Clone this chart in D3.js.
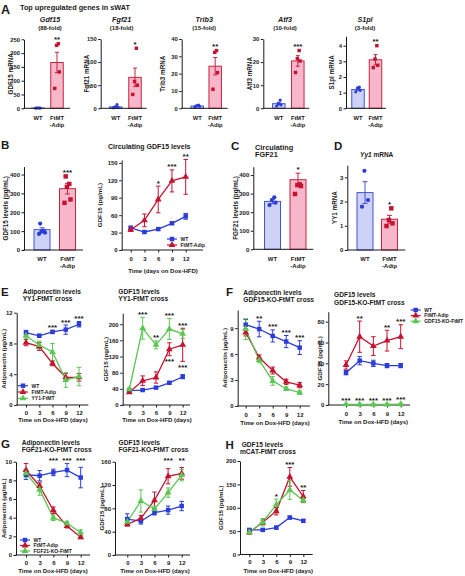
<!DOCTYPE html>
<html><head><meta charset="utf-8">
<script src="https://cdn.jsdelivr.net/npm/d3@7"></script>
<style>
body{margin:0;background:#fff}
svg{display:block}
text{font-family:"Liberation Sans",Arial,Helvetica,sans-serif;font-weight:bold;fill:#1a1a1a}
</style>
</head><body>
<svg id="c" width="465" height="576"></svg>
<script>
// ================= DATA =================
const days = [0, 3, 6, 9, 12];
const groups = ["WT", "FtMT"];

// Panel A
const aGenes = ["Gdf15", "Fgf21", "Trib3", "Atf3", "S1pl"];
const aFold = ["(88-fold)", "(18-fold)", "(15-fold)", "(10-fold)", "(3-fold)"];
const aYLab = ["GDF15 mRNA", "Fgf21 mRNA", "Trib3 mRNA", "Atf3 mRNA", "S1pl mRNA"];
const aTicks = [[0,50,100,150,200,250],[0,50,100,150],[0,10,20,30,40],[0,10,20,30],[0,1,2,3,4]];
const aWTMean = [1, 3, 1.3, 2, 1.2];
const aWTSem = [0.4, 1.5, 0.3, 0.6, 0.07];
const aWTPts = [[0.5,1,1.5,1],[1,2,3,8],[0.8,1.2,1.5,1.8],[1,1.5,2,3.5],[1.05,1.15,1.3,1.35]];
const aFtMean = [166, 67, 24.3, 20.5, 3.1];
const aFtSem = [37, 20, 5, 2.3, 0.33];
const aFtPts = [[72,132,228,234],[30,50,58,130],[11,20.6,32.3,33.3],[15.5,20.5,21.5,25],[2.6,2.75,3.15,4.0]];
const aStars = ["**", "*", "**", "***", "**"];

// Panel B
const bBarMean = [108, 325];
const bBarSem = [10, 28];
const bBarPts = [[85,92,97,103,140],[250,268,335,350,390]];
const bBarStar = "***";
const bLineWT = [38, 31, 36, 46, 58];
const bLineWTSem = [3, 2, 2, 2, 5];
const bLineFt = [35, 51, 87, 119, 126];
const bLineFtSem = [3, 11, 23, 19, 30];
const bLineStars = ["", "", "*", "***", "**"];

// Panel C
const cMean = [258, 375];
const cSem = [12, 35];
const cPts = [[238,251,265,280],[298,341,346,350]];
const cStar = "*";

// Panel D
const dMean = [2.37, 1.27];
const dSem = [0.45, 0.16];
const dPts = [[1.79,2.06,3.27],[0.99,1.1,1.24,1.72]];
const dStar = "*";

// Panel E
const eAdWT = [9.4, 9.0, 9.5, 9.8, 10.5];
const eAdWTSem = [0.3, 0.2, 0.2, 0.6, 0.35];
const eAdFt = [8.1, 7.6, 5.4, 3.6, 3.6];
const eAdFtSem = [0.4, 0.5, 0.3, 0.5, 0.5];
const eAdYY = [9.0, 7.8, 6.9, 3.25, 3.7];
const eAdYYSem = [0.4, 0.5, 1.1, 0.95, 1.2];
const eAdStars = ["", "", "***", "***", "***"];
const eGdWT = [35.5, 37, 43, 55, 70];
const eGdWTSem = [2, 2, 2, 3, 5];
const eGdFt = [31.5, 60, 68, 138, 149];
const eGdFtSem = [3, 12, 14, 16, 41];
const eGdYY = [39, 190, 149, 188, 176];
const eGdYYSem = [3, 27, 10, 26, 11];
const eGdStarsTop = ["", "***", "**", "***", "***"];
const eGdStarsLow = ["", "", "", "***", "***"];

// Panel F
const fAdWT = [9.4, 8.9, 8.1, 7.45, 6.75];
const fAdWTSem = [0.6, 0.9, 0.7, 0.7, 0.8];
const fAdFt = [8.5, 5.6, 4.1, 2.8, 2.4];
const fAdFtSem = [0.4, 0.3, 0.4, 0.3, 0.3];
const fAdKO = [8.9, 5.3, 2.9, 2.0, 1.55];
const fAdKOSem = [1.2, 0.3, 0.5, 0.2, 0.2];
const fAdStars = ["", "**", "***", "***", "***"];
const fGdWT = [31, 42.6, 40, 37.8, 37.8];
const fGdWTSem = [2, 4, 3, 2, 2];
const fGdFt = [38.4, 65.6, 56.6, 61.8, 65.6];
const fGdFtSem = [4, 15, 9, 10, 11.5];
const fGdKO = [0.6, 0.5, 0.5, 0.5, 0.8];
const fGdKOSem = [0.3, 0.3, 0.3, 0.3, 0.4];
const fGdStarsTop = ["", "**", "", "**", "***"];
const fGdStarsKO = ["***", "***", "***", "***", "***"];

// Panel G
const gAdWT = [8.6, 8.5, 8.85, 9.1, 8.3];
const gAdWTSem = [0.5, 0.55, 0.35, 0.7, 1.1];
const gAdFt = [9.1, 7.4, 4.8, 3.1, 1.9];
const gAdFtSem = [0.7, 0.4, 0.35, 0.2, 0.15];
const gAdKO = [8.75, 7.0, 4.0, 3.4, 2.4];
const gAdKOSem = [0.4, 0.6, 0.3, 0.2, 0.3];
const gAdStars = ["", "", "***", "***", "***"];
const gAdStarLevel = 9.9;
const gGdWT = [61.7, 58, 72.6, 77, 84];
const gGdWTSem = [9, 5, 4, 7, 8];
const gGdFt = [52.6, 62.9, 94, 135, 140];
const gGdFtSem = [3, 5, 14, 13, 10];
const gGdKO = [57, 92.6, 79, 107, 137];
const gGdKOSem = [5, 19, 5, 8, 10];
const gGdStars = ["", "", "", "***", "**"];
const gGdStarLevel = 157;

// Panel H
const hWT = [52.6, 52.6, 57.5, 79, 72];
const hWTSem = [3, 3, 3, 3, 3];
const hFt = [47.7, 68.8, 92.6, 166, 124];
const hFtSem = [4, 5, 8, 20, 13];
const hMC = [48, 69, 106.7, 138, 116];
const hMCSem = [4, 8, 12, 20, 4];
const hStars = ["", "", "*", "***", "**"];

// ================= STYLE / LAYOUT =================
const COL = {wt:"#2b3cd8", ft:"#c4132f", gr:"#5cc653", wtFill:"#cdd2f6", ftFill:"#f7b6ca",
             wtBar:"#4454d8", ftBar:"#c5263f", ink:"#1a1a1a"};
const FONT = '"Liberation Sans", Arial, Helvetica, sans-serif';
const JIT = [-2.5, 2.5, -0.5, 1.5, -1.5];
const svg = d3.select("#c");

function T(x, y, s, fs, o = {}) {
  const t = svg.append("text").attr("x", x).attr("y", y).attr("font-size", fs).text(s);
  if (o.a) t.attr("text-anchor", o.a);
  if (o.i) t.attr("font-style", "italic");
  if (o.r) t.attr("transform", `rotate(-90,${x},${y})`).attr("dy", "0.35em");
  return t;
}

function yAxis(ax, y, ticks, fs) {
  const g = svg.append("g").attr("transform", `translate(${ax},0)`)
    .call(d3.axisLeft(y).tickValues(ticks).tickSize(2.5).tickSizeOuter(0).tickPadding(1.5).tickFormat(d3.format("d")));
  g.attr("font-size", fs).attr("font-family", FONT).attr("font-weight", "bold");
  g.select(".domain").attr("stroke", COL.ink).attr("stroke-width", 1);
  g.selectAll(".tick line").attr("stroke", COL.ink).attr("stroke-width", 1);
  g.selectAll(".tick text").attr("fill", COL.ink);
  return g;
}

function hline(x1, x2, y, col, w) {
  svg.append("line").attr("x1", x1).attr("x2", x2).attr("y1", y).attr("y2", y)
    .attr("stroke", col).attr("stroke-width", w);
}
function errBar(cx, yT, yB, col, cap, w) {
  svg.append("line").attr("x1", cx).attr("x2", cx).attr("y1", yT).attr("y2", yB).attr("stroke", col).attr("stroke-width", w);
  hline(cx - cap / 2, cx + cap / 2, yT, col, w);
  hline(cx - cap / 2, cx + cap / 2, yB, col, w);
}

function barChart(L, mean, sem, pts, star) {
  const y = d3.scaleLinear().domain([0, L.yMax]).range([L.y0, L.yTop]);
  const x = d3.scalePoint().domain(groups).range([L.ax + L.c[0], L.ax + L.c[1]]);
  const sty = [
    {fill: COL.wtFill, st: COL.wtBar, pt: COL.wt, sym: d3.symbolCircle, sz: L.ps[0]},
    {fill: COL.ftFill, st: COL.ftBar, pt: COL.ft, sym: d3.symbolSquare, sz: L.ps[1]}
  ];
  groups.forEach((k, gi) => {
    const cx = x(k), s = sty[gi];
    svg.append("rect").attr("x", cx - L.bw / 2).attr("y", y(mean[gi])).attr("width", L.bw)
      .attr("height", L.y0 - y(mean[gi])).attr("fill", s.fill).attr("stroke", s.st).attr("stroke-width", 1);
    errBar(cx, y(mean[gi] + sem[gi]), y(Math.max(0, mean[gi] - sem[gi])), s.st, L.cap, 1);
    pts[gi].forEach((v, i) => {
      svg.append("path").attr("d", d3.symbol(s.sym, s.sz)())
        .attr("transform", `translate(${cx + JIT[i % JIT.length] * L.jit},${y(v)})`).attr("fill", s.pt);
    });
  });
  yAxis(L.ax, y, L.ticks, L.tfs);
  hline(L.ax - 0.5, L.ax + L.xLen, L.y0, COL.ink, 1);
  const top = Math.min(y(mean[1] + sem[1]), y(d3.max(pts[1])));
  T(x("FtMT"), top - 1.5, star, 8, {a: "middle"});
  T(x("WT"), L.lab1, "WT", L.xfs, {a: "middle"});
  T(x("FtMT"), L.lab1, "FtMT", L.xfs, {a: "middle"});
  T(x("FtMT"), L.lab2, "-Adip", L.xfs, {a: "middle"});
  T(L.ylx, (L.y0 + L.yTop) / 2, L.ylab, L.yfs, {a: "middle", r: true});
  return {x, y};
}

const SHAPES = {sq: [d3.symbolSquare, 20], tri: [d3.symbolTriangle, 20]};

function lineChart(L, series, starRows) {
  const x = d3.scaleLinear().domain([0, 12]).range([L.x0, L.x1]);
  const y = d3.scaleLinear().domain([0, L.yMax]).range([L.y0, L.yTop]);
  yAxis(L.ax, y, L.ticks, 6);
  const gx = svg.append("g").attr("transform", `translate(0,${L.y0})`)
    .call(d3.axisBottom(x).tickValues(days).tickSize(2.5).tickPadding(L.tb - L.y0 - 6.8));
  gx.attr("font-size", 6).attr("font-family", FONT).attr("font-weight", "bold");
  gx.select(".domain").remove();
  gx.selectAll(".tick line").attr("stroke", COL.ink);
  gx.selectAll(".tick text").attr("fill", COL.ink);
  hline(L.ax - 0.5, L.xEnd, L.y0, COL.ink, 1);
  const line = d3.line().x((d, i) => x(days[i])).y(d => y(d));
  series.forEach(s => {
    svg.append("path").attr("d", line(s.m)).attr("fill", "none").attr("stroke", s.c).attr("stroke-width", 1.3);
  });
  series.forEach(s => {
    s.m.forEach((v, i) => errBar(x(days[i]), y(v + s.e[i]), y(Math.max(0, v - s.e[i])), s.c, 4.5, 1));
  });
  series.forEach(s => {
    s.m.forEach((v, i) => {
      svg.append("path").attr("d", d3.symbol(SHAPES[s.sh][0], SHAPES[s.sh][1])())
        .attr("transform", `translate(${x(days[i])},${y(v)})`).attr("fill", s.c);
    });
  });
  starRows.forEach(r => {
    r.labels.forEach((lab, i) => {
      if (!lab) return;
      let yy;
      if (r.mode === "top") yy = d3.min(series, s => y(s.m[i] + s.e[i])) - 0.5;
      else if (r.mode === "below") yy = y(series[r.ref].m[i] - series[r.ref].e[i]) + 8.5;
      else if (r.mode === "above") yy = y(series[r.ref].m[i] + series[r.ref].e[i]) - 1.5;
      else yy = y(r.level);
      T(x(days[i]), yy, lab, 8, {a: "middle"});
    });
  });
  T(L.xlx, L.xly, L.xlab, 6, {a: "middle"});
  T(L.ylx, (L.y0 + L.yTop) / 2, L.ylab, 6.2, {a: "middle", r: true});
}

function legend(x, y, dy, items) {
  items.forEach((it, i) => {
    const yy = y + i * dy;
    hline(x, x + 10, yy, it.c, 1.2);
    svg.append("path").attr("d", d3.symbol(SHAPES[it.sh][0], SHAPES[it.sh][1])())
      .attr("transform", `translate(${x + 5},${yy})`).attr("fill", it.c);
    T(x + 13.5, yy + 1.8, it.t, 5);
  });
}

// ================= PANEL A =================
T(1, 13.5, "A", 12.5);
T(20, 9.5, "Top upregulated genes in sWAT", 7.3);
const aAx = [24, 100.7, 181.7, 263.3, 346];
const aTop = [39.3, 39, 39, 39, 36.3];
const aMax = [250, 150, 40, 30, 4.6];
const aC = [[14, 33],[15, 34.3],[15.5, 33.5],[15.5, 34.5],[12, 29.5]];
const aYLx = [13, 13.5, 18.5, 13.3, 14.3];
const aTx = [26, 21, 22.5, 21.7, 19];
aGenes.forEach((g, k) => {
  barChart({ax: aAx[k], y0: 108.3, yTop: aTop[k], yMax: aMax[k], ticks: aTicks[k], c: aC[k], bw: 12.5,
    cap: 4, xLen: k === 4 ? 40 : 46, ps: [8, 12], jit: 0.9, tfs: 5.8, xfs: 5.8, yfs: 6.3,
    lab1: 120, lab2: 126.5, ylab: aYLab[k], ylx: aAx[k] - aYLx[k]},
    [aWTMean[k], aFtMean[k]], [aWTSem[k], aFtSem[k]], [aWTPts[k], aFtPts[k]], aStars[k]);
  T(aAx[k] + aTx[k], 22, g, 7.2, {a: "middle", i: true});
  T(aAx[k] + aTx[k], 29.6, aFold[k], 6, {a: "middle"});
});

// ================= PANEL B =================
T(1, 149, "B", 11.5);
T(108, 149, "Circulating GDF15 levels", 7);
barChart({ax: 24, y0: 250, yTop: 166.6, yMax: 442, ticks: [0,100,200,300,400], c: [18, 43.5], bw: 16,
  cap: 5, xLen: 59, ps: [14, 20], jit: 1.2, tfs: 6, xfs: 6, yfs: 6.3,
  lab1: 260.7, lab2: 267.8, ylab: "GDF15 levels (pg/mL)", ylx: 6}, bBarMean, bBarSem, bBarPts, bBarStar);
lineChart({ax: 121.7, y0: 250, yTop: 160, yMax: 155, ticks: [0,30,60,90,120,150], x0: 130.7, x1: 185.7,
  xEnd: 203, tb: 261.5, xlx: 163, xly: 272.5, xlab: "Time (days on Dox-HFD)", ylx: 100, ylab: "GDF15 (pg/mL)"},
  [{m: bLineWT, e: bLineWTSem, c: COL.wt, sh: "sq"}, {m: bLineFt, e: bLineFtSem, c: COL.ft, sh: "tri"}],
  [{labels: bLineStars, mode: "top"}]);
legend(167, 239, 6, [{t: "WT", c: COL.wt, sh: "sq"}, {t: "FtMT-Adip", c: COL.ft, sh: "tri"}]);

// ================= PANEL C =================
T(231, 150, "C", 11.5);
T(255, 149.5, "Circulating", 7.3);
T(255, 157, "FGF21", 7.3);
barChart({ax: 253.3, y0: 249.3, yTop: 166.7, yMax: 445, ticks: [0,100,200,300,400], c: [19.2, 44.7], bw: 16,
  cap: 5, xLen: 60, ps: [14, 20], jit: 1.2, tfs: 6, xfs: 6, yfs: 6.3,
  lab1: 261, lab2: 268, ylab: "FGF21 levels (pg/mL)", ylx: 236}, cMean, cSem, cPts, cStar);

// ================= PANEL D =================
T(334, 150, "D", 11.5);
const dt = svg.append("text").attr("x", 376.7).attr("y", 157).attr("font-size", 6.5).attr("text-anchor", "middle");
dt.append("tspan").attr("font-style", "italic").text("Yy1");
dt.append("tspan").text(" mRNA");
barChart({ax: 347.3, y0: 250, yTop: 165.2, yMax: 3.5, ticks: [0,1,2,3], c: [17.7, 42.2], bw: 16,
  cap: 5, xLen: 58, ps: [14, 20], jit: 1.2, tfs: 6, xfs: 6, yfs: 6.3,
  lab1: 261, lab2: 268, ylab: "YY1 mRNA", ylx: 335}, dMean, dSem, dPts, dStar);

// ================= PANEL E =================
T(1, 296, "E", 11.5);
T(22.7, 294, "Adiponectin levels", 6.6);
T(22.7, 301.3, "YY1-FtMT cross", 6.6);
T(118.3, 294, "GDF15 levels", 6.6);
T(118.3, 301.3, "YY1-FtMT cross", 6.6);
lineChart({ax: 16.7, y0: 405, yTop: 312.7, yMax: 12, ticks: [0,4,8,12], x0: 26, x1: 79, xEnd: 88.3,
  tb: 415.5, xlx: 53, xly: 421.8, xlab: "Time on Dox-HFD (days)", ylx: 4, ylab: "Adiponectin (µg/mL)"},
  [{m: eAdWT, e: eAdWTSem, c: COL.wt, sh: "sq"}, {m: eAdFt, e: eAdFtSem, c: COL.ft, sh: "tri"},
   {m: eAdYY, e: eAdYYSem, c: COL.gr, sh: "tri"}],
  [{labels: eAdStars, mode: "top"}]);
legend(18, 385.7, 6.3, [{t: "WT", c: COL.wt, sh: "sq"}, {t: "FtMT-Adip", c: COL.ft, sh: "tri"},
  {t: "YY1-FtMT", c: COL.gr, sh: "tri"}]);
lineChart({ax: 122.7, y0: 405, yTop: 313.3, yMax: 227, ticks: [0,40,80,120,160,200], x0: 129.3, x1: 182.7,
  xEnd: 190, tb: 415.5, xlx: 157, xly: 421.8, xlab: "Time on Dox-HFD (days)", ylx: 106, ylab: "GDF15 (pg/mL)"},
  [{m: eGdWT, e: eGdWTSem, c: COL.wt, sh: "sq"}, {m: eGdFt, e: eGdFtSem, c: COL.ft, sh: "tri"},
   {m: eGdYY, e: eGdYYSem, c: COL.gr, sh: "tri"}],
  [{labels: eGdStarsTop, mode: "top"}, {labels: eGdStarsLow, mode: "below", ref: 1}]);

// ================= PANEL F =================
T(226, 295.5, "F", 11.5);
T(243.3, 294.5, "Adiponectin levels", 6.6);
T(243.3, 301.8, "GDF15-KO-FtMT cross", 6.6);
T(334, 296.5, "GDF15 levels", 6.6);
T(334, 304.5, "GDF15-KO-FtMT cross", 6.6);
lineChart({ax: 237.7, y0: 406, yTop: 310, yMax: 11.1, ticks: [0,3,6,9], x0: 245.7, x1: 299.7, xEnd: 310,
  tb: 417.2, xlx: 275, xly: 424.5, xlab: "Time on Dox-HFD (days)", ylx: 225, ylab: "Adiponectin (µg/mL)"},
  [{m: fAdWT, e: fAdWTSem, c: COL.wt, sh: "sq"}, {m: fAdFt, e: fAdFtSem, c: COL.ft, sh: "tri"},
   {m: fAdKO, e: fAdKOSem, c: COL.gr, sh: "tri"}],
  [{labels: fAdStars, mode: "top"}]);
lineChart({ax: 328.3, y0: 405, yTop: 311.7, yMax: 89.6, ticks: [0,20,40,60,80], x0: 346, x1: 400.7, xEnd: 410,
  tb: 415.8, xlx: 373.3, xly: 423.8, xlab: "Time on Dox-HFD (days)", ylx: 320, ylab: "GDF15 (pg/mL)"},
  [{m: fGdWT, e: fGdWTSem, c: COL.wt, sh: "sq"}, {m: fGdFt, e: fGdFtSem, c: COL.ft, sh: "tri"},
   {m: fGdKO, e: fGdKOSem, c: COL.gr, sh: "tri"}],
  [{labels: fGdStarsTop, mode: "top"}, {labels: fGdStarsKO, mode: "above", ref: 2}]);
legend(410.7, 310, 5.6, [{t: "WT", c: COL.wt, sh: "sq"}, {t: "FtMT-Adip", c: COL.ft, sh: "tri"},
  {t: "GDF15-KO-FtMT", c: COL.gr, sh: "tri"}]);

// ================= PANEL G =================
T(1, 448, "G", 11.5);
T(21.7, 444.5, "Adiponectin levels", 6.6);
T(21.7, 452, "FGF21-KO-FtMT cross", 6.6);
T(118.5, 444.5, "GDF15 levels", 6.6);
T(118.5, 452, "FGF21-KO-FtMT cross", 6.6);
lineChart({ax: 16, y0: 555, yTop: 461.7, yMax: 10, ticks: [0,2,4,6,8,10], x0: 26, x1: 80.7, xEnd: 90,
  tb: 565.5, xlx: 53, xly: 573.3, xlab: "Time on Dox-HFD (days)", ylx: 4, ylab: "Adiponectin (µg/mL)"},
  [{m: gAdWT, e: gAdWTSem, c: COL.wt, sh: "sq"}, {m: gAdFt, e: gAdFtSem, c: COL.ft, sh: "tri"},
   {m: gAdKO, e: gAdKOSem, c: COL.gr, sh: "tri"}],
  [{labels: gAdStars, mode: "level", level: gAdStarLevel}]);
legend(20, 540, 5.5, [{t: "WT", c: COL.wt, sh: "sq"}, {t: "FtMT-Adip", c: COL.ft, sh: "tri"},
  {t: "FGF21-KO-FtMT", c: COL.gr, sh: "tri"}]);
lineChart({ax: 115, y0: 555, yTop: 461.7, yMax: 160, ticks: [0,40,80,120,160], x0: 127.3, x1: 181.7, xEnd: 190,
  tb: 565.5, xlx: 155, xly: 573.3, xlab: "Time on Dox-HFD (days)", ylx: 101.7, ylab: "GDF15 (pg/mL)"},
  [{m: gGdWT, e: gGdWTSem, c: COL.wt, sh: "sq"}, {m: gGdFt, e: gGdFtSem, c: COL.ft, sh: "tri"},
   {m: gGdKO, e: gGdKOSem, c: COL.gr, sh: "tri"}],
  [{labels: gGdStars, mode: "level", level: gGdStarLevel}]);

// ================= PANEL H =================
T(225.5, 448.5, "H", 11.5);
T(241.7, 446.5, "GDF15 levels", 6.6);
T(240, 453.5, "mCAT-FtMT cross", 6.6);
lineChart({ax: 240, y0: 554.5, yTop: 461, yMax: 200, ticks: [0,50,100,150,200], x0: 249.3, x1: 303.3, xEnd: 312.7,
  tb: 564.5, xlx: 278.3, xly: 572.5, xlab: "Time on Dox-HFD (days)", ylx: 221, ylab: "GDF15 (pg/mL)"},
  [{m: hWT, e: hWTSem, c: COL.wt, sh: "sq"}, {m: hFt, e: hFtSem, c: COL.ft, sh: "tri"},
   {m: hMC, e: hMCSem, c: COL.gr, sh: "tri"}],
  [{labels: hStars, mode: "top"}]);
</script>
</body></html>
